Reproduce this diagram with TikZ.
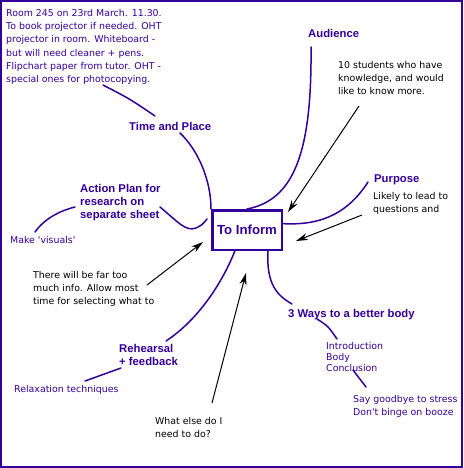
\documentclass[tikz,border=0pt]{standalone}
\usepackage{fontspec}
\setmainfont{DejaVu Sans}
\newfontfamily\headfont{Liberation Sans}
\usepackage{tikz}
\usetikzlibrary{arrows.meta}
\usetikzlibrary{positioning}
\usetikzlibrary{calc}
\definecolor{mindpurple}{RGB}{51,0,153}

\begin{document}
\begin{tikzpicture}[x=1pt,y=-1pt,>={Stealth[length=12pt,width=7pt]},
					  head node/.style={inner sep=0pt,anchor=base west,align=left,text=mindpurple,
					    font=\headfont\bfseries\fontsize{11.3}{13}\selectfont},
					  note node/.style={inner sep=0pt,anchor=base west,align=left,
					    font=\fontsize{9.4}{13.2}\selectfont},
					  sub node/.style={note node,text=mindpurple},
					  box node/.style={draw=mindpurple,line width=2.5pt,minimum width=69.5pt,minimum height=39.5pt,
					    text=mindpurple,font=\headfont\bfseries\fontsize{13.2}{15}\selectfont},
					  branch/.style={mindpurple,line width=1.5pt,line cap=round},
					  pointer/.style={->,black,line width=1pt}]

					  \useasboundingbox (0,0) rectangle (463,468);
					  \draw[mindpurple,line width=2pt] (1,1) rectangle (462,467);

					  \node[box node] (inform) at (247,230) {To Inform};

					  % multi-line nodes sit on the baseline of their last line
					  \node[sub node] (room) at (6,82.5) {Room 245 on 23rd March. 11.30.\\To book projector if needed. OHT\\projector in room. Whiteboard -\\but will need cleaner + pens.\\Flipchart paper from tutor. OHT -\\special ones for photocopying.};
					  \node[head node] (time) at (129,131) {Time and Place};
					  \node[head node] (audience) at (308,38) {Audience};
					  \node[note node] (students) at (338,94.4) {10 students who have\\knowledge, and would\\like to know more.};
					  \node[head node] (purpose) at (374,182) {Purpose};
					  \node[note node] (likely) at (373,212.7) {Likely to lead to\\questions and};
					  \node[head node] (action) at (80,218) {Action Plan for\\research on\\separate sheet};
					  \node[sub node] (visuals) at (10,243.5) {Make \textquotesingle visuals\textquotesingle};
					  \node[note node] (toomuch) at (33,304.9) {There will be far too\\much info. Allow most\\time for selecting what to};
					  \node[head node] (rehearsal) at (119,365) {Rehearsal\\+ feedback};
					  \node[sub node] (relax) at (14,392.5) {Relaxation techniques};
					  \node[note node] (whatelse) at (155,437.7) {What else do I\\need to do?};
					  \node[head node] (ways) at (288,317) {3 Ways to a better body};
					  \node[sub node,font=\fontsize{9.4}{11}\selectfont] (parts) at (326,371.5) {Introduction\\Body\\Conclusion};
					  \node[sub node,font=\fontsize{9.4}{12.7}\selectfont] (stress) at (353,415.2) {Say goodbye to stress\\Don\textquotesingle t binge on booze};

					  % free ends of the branches
					  \coordinate (room-end) at (103,85);
					  \coordinate (time-top) at (155,116);
					  \coordinate (time-foot) at (180,133);
					  \coordinate (audience-foot) at (311,47);
					  \coordinate (purpose-foot) at (368,182);
					  \coordinate (action-out) at (160,207);
					  \coordinate (action-end) at (207,219);
					  \coordinate (action-in) at (75,207);
					  \coordinate (visuals-top) at (35,232);
					  \coordinate (rehearsal-top) at (166,341);
					  \coordinate (rehearsal-foot) at (121,368);
					  \coordinate (relax-top) at (85,381);
					  \coordinate (ways-top) at (292,304);
					  \coordinate (ways-foot) at (317,319);
					  \coordinate (parts-top) at (337,339);
					  \coordinate (parts-foot) at (353,370);
					  \coordinate (stress-top) at (366,387);

					  \draw[branch] (room-end) .. controls (130,99) .. (time-top);
					  \draw[branch] (time-foot) .. controls (198,150) and (211,180) .. (inform.north west);
					  \draw[branch] (audience-foot) .. controls (312,150) and (295,200) .. (inform.north);
					  \draw[branch] (purpose-foot) .. controls (350,210) and (325,226) .. (inform.10);
					  \draw[branch] (action-out) .. controls (178,222) and (186,232) .. (196,228) .. controls (202,225) .. (action-end);
					  \draw[branch] (action-in) .. controls (55,212) and (42,222) .. (visuals-top);
					  \draw[branch] (inform.240) .. controls (220,288) and (195,322) .. (rehearsal-top);
					  \draw[branch] (rehearsal-foot) -- (relax-top);
					  \draw[branch] (inform.315) .. controls (266,285) and (278,296) .. (ways-top);
					  \draw[branch] (ways-foot) .. controls (328,326) .. (parts-top);
					  \draw[branch] (parts-foot) -- (stress-top);

					  % the arrows
					  \coordinate (students-tail) at (359,106);
					  \coordinate (students-tip) at (288,212);
					  \coordinate (likely-tail) at (362,215);
					  \coordinate (likely-tip) at (296,241);
					  \coordinate (toomuch-tail) at (147,285);
					  \coordinate (toomuch-tip) at (203,242);
					  \coordinate (whatelse-tail) at (212,403);
					  \coordinate (whatelse-tip) at (246,273);

					  \draw[pointer] (students-tail) -- (students-tip);
					  \draw[pointer] (likely-tail) -- (likely-tip);
					  \draw[pointer] (toomuch-tail) -- (toomuch-tip);
					  \draw[pointer] (whatelse-tail) -- (whatelse-tip);
					\end{tikzpicture}
\end{document}
